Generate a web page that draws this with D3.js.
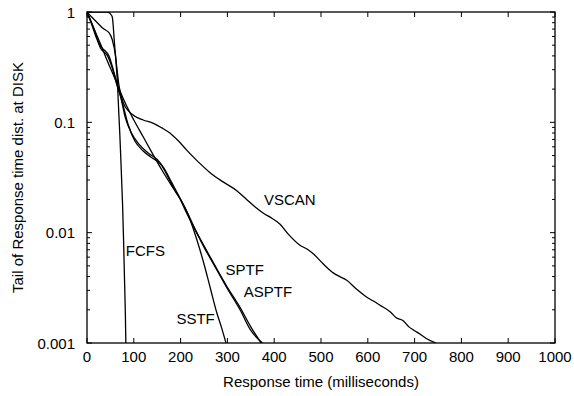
<!DOCTYPE html>
<html>
<head>
<meta charset="utf-8">
<script src="https://cdn.jsdelivr.net/npm/d3@7"></script>
<style>
  body { margin: 0; background: #fff; }
  text { font-family: "Liberation Sans", Arial, Helvetica, sans-serif; fill: #000; }
</style>
</head>
<body>
<script>
const width = 574, height = 396;

// tick labels
const xTicks = [0, 100, 200, 300, 400, 500, 600, 700, 800, 900, 1000];
const yTicks = [1, 0.1, 0.01, 0.001];
const yTickLabels = ["1", "0.1", "0.01", "0.001"];

// series: [ms, tail fraction]
const fcfs = [[0,1],[40,1],[46,0.99],[50,0.96],[54,0.9],[56,0.75],[58,0.57],[62,0.35],[65,0.23],[68,0.12],[70,0.08],[72,0.05],[74,0.03],[76,0.018],[78,0.009],[80,0.004],[82,0.0018],[83,0.001]];
const sstf = [[0,1],[10,0.79],[20,0.63],[30,0.5],[40,0.39],[50,0.31],[65,0.22],[80,0.155],[100,0.105],[120,0.074],[140,0.052],[160,0.037],[180,0.027],[200,0.02],[215,0.015],[226,0.0112],[240,0.0073],[250,0.0052],[263,0.0032],[277,0.0019],[287,0.0014],[297,0.001]];
const sptf = [[0,1],[11,0.75],[19,0.6],[29,0.47],[44,0.4],[54,0.31],[65,0.21],[74,0.16],[88,0.095],[102,0.068],[120,0.055],[141,0.047],[159,0.041],[173,0.032],[188,0.024],[200,0.02],[215,0.015],[231,0.0108],[250,0.0076],[275,0.0049],[300,0.0032],[327,0.0021],[350,0.0014],[372,0.001]];
const asptf = [[0,1],[15,0.7],[22,0.57],[29,0.49],[40,0.44],[47,0.4],[58,0.28],[65,0.22],[72,0.17],[82,0.11],[95,0.08],[110,0.064],[130,0.053],[150,0.046],[165,0.038],[180,0.029],[195,0.022],[210,0.016],[231,0.0106],[250,0.0074],[275,0.0048],[300,0.0031],[327,0.002],[350,0.0013],[375,0.001]];
const vscan = [[0,1],[10,0.9],[22,0.8],[36,0.7],[47,0.65],[54,0.56],[61,0.4],[65,0.28],[68,0.22],[78,0.149],[90,0.125],[103,0.113],[120,0.105],[142,0.098],[160,0.089],[177,0.08],[195,0.068],[213,0.056],[235,0.045],[263,0.035],[290,0.029],[320,0.024],[341,0.02],[360,0.017],[377,0.015],[395,0.0135],[412,0.012],[430,0.0097],[455,0.0077],[470,0.0071],[484,0.0064],[505,0.0052],[527,0.0043],[540,0.0040],[555,0.0037],[575,0.0031],[598,0.0026],[612,0.0024],[626,0.0022],[649,0.0019],[660,0.0017],[675,0.0016],[688,0.0014],[699,0.0013],[712,0.0012],[725,0.0011],[746,0.001]];

const series = [fcfs, sstf, sptf, asptf, vscan];
const labels = [
  {name: "FCFS", at: [83, 0.0062]},
  {name: "SSTF", at: [191, 0.0015]},
  {name: "SPTF", at: [296, 0.0041]},
  {name: "ASPTF", at: [335, 0.0026]},
  {name: "VSCAN", at: [378, 0.0178]}
];

const m = {left: 87, right: 555, top: 12, bottom: 343};

const x = d3.scaleLinear().domain([0, 1000]).range([m.left, m.right]);
const y = d3.scaleLog().domain([0.001, 1]).range([m.bottom, m.top]);

const svg = d3.select("body").append("svg")
  .attr("width", width)
  .attr("height", height);

svg.append("clipPath").attr("id", "clip")
  .append("rect")
  .attr("x", m.left).attr("y", m.top)
  .attr("width", m.right - m.left).attr("height", m.bottom - m.top);

// minor + major y ticks (inward, both sides)
const minor = [];
[0.001, 0.01, 0.1].forEach(d => { for (let k = 2; k <= 9; k++) minor.push(d * k); });

const axes = svg.append("g").attr("stroke", "#000").attr("stroke-width", 1);

minor.forEach(v => {
  axes.append("line").attr("x1", m.left).attr("x2", m.left + 3).attr("y1", y(v)).attr("y2", y(v));
  axes.append("line").attr("x1", m.right).attr("x2", m.right - 3).attr("y1", y(v)).attr("y2", y(v));
});
yTicks.forEach(v => {
  axes.append("line").attr("x1", m.left).attr("x2", m.left + 5).attr("y1", y(v)).attr("y2", y(v));
  axes.append("line").attr("x1", m.right).attr("x2", m.right - 5).attr("y1", y(v)).attr("y2", y(v));
});
xTicks.forEach(v => {
  axes.append("line").attr("x1", x(v)).attr("x2", x(v)).attr("y1", m.bottom).attr("y2", m.bottom - 5);
  axes.append("line").attr("x1", x(v)).attr("x2", x(v)).attr("y1", m.top).attr("y2", m.top + 5);
});

svg.append("rect")
  .attr("x", m.left).attr("y", m.top)
  .attr("width", m.right - m.left).attr("height", m.bottom - m.top)
  .attr("fill", "none").attr("stroke", "#000").attr("stroke-width", 1.3);

// tick labels
svg.selectAll(".xt").data(xTicks).enter().append("text")
  .attr("x", d => x(d)).attr("y", 362)
  .attr("text-anchor", "middle")
  .style("font-size", "15px")
  .text(d => d);

svg.selectAll(".yt").data(yTicks).enter().append("text")
  .attr("x", 75).attr("y", d => y(d) + 5.5)
  .attr("text-anchor", "end")
  .style("font-size", "15px")
  .text((d, i) => yTickLabels[i]);

svg.append("text")
  .attr("x", (m.left + m.right) / 2).attr("y", 387)
  .attr("text-anchor", "middle")
  .style("font-size", "15px")
  .text("Response time (milliseconds)");

svg.append("text")
  .attr("transform", "translate(23," + ((m.top + m.bottom) / 2) + ") rotate(-90)")
  .attr("text-anchor", "middle")
  .style("font-size", "15px")
  .text("Tail of Response time dist. at DISK");

// curves
const line = d3.line()
  .x(d => x(d[0]))
  .y(d => y(d[1]))
  .curve(d3.curveMonotoneX);

svg.append("g").attr("clip-path", "url(#clip)")
  .selectAll("path").data(series).enter().append("path")
  .attr("d", line)
  .attr("fill", "none")
  .attr("stroke", "#000")
  .attr("stroke-width", 1.3);

svg.selectAll(".lab").data(labels).enter().append("text")
  .attr("x", d => x(d.at[0]))
  .attr("y", d => y(d.at[1]))
  .style("font-size", "15px")
  .text(d => d.name);
</script>
</body>
</html>
